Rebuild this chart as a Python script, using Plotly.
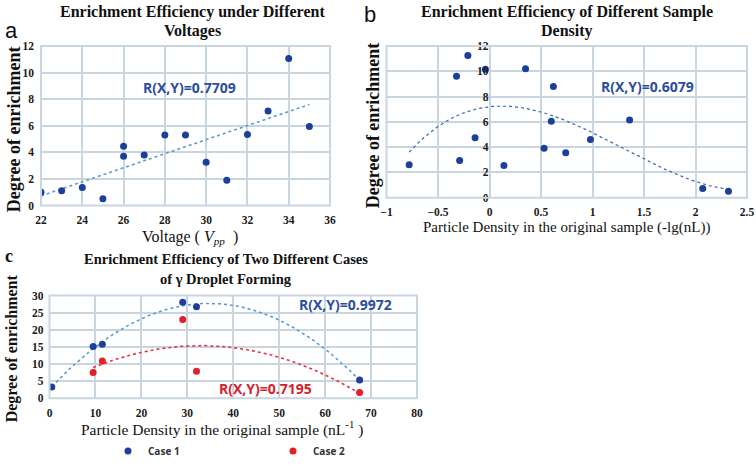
import numpy as np
import plotly.graph_objects as go

# ---- data ----
volt_x = [22, 23, 24, 25, 26, 26, 27, 28, 29, 30, 31, 32, 33, 34, 35]
volt_y = [1.0, 1.1, 1.35, 0.5, 4.45, 3.7, 3.8, 5.3, 5.3, 3.25, 1.9, 5.35, 7.1, 11.05, 5.95]

dens_x = [-0.78, -0.32, -0.29, -0.21, -0.14, -0.04, 0.14, 0.35, 0.53, 0.60, 0.62, 0.74, 0.98, 1.36, 2.07, 2.32]
dens_y = [2.6, 9.6, 2.95, 11.25, 4.75, 10.15, 2.55, 10.2, 3.9, 6.05, 8.8, 3.55, 4.6, 6.15, 0.72, 0.5]

case1_x = [0.5, 9.5, 11.5, 29, 32, 67.5]
case1_y = [3.3, 15.1, 15.8, 28, 26.7, 5.3]
case2_x = [9.5, 11.5, 29, 32, 67.5]
case2_y = [7.5, 10.9, 23, 7.9, 1.7]

r_labels = ["R(X,Y)=0.7709", "R(X,Y)=0.6079", "R(X,Y)=0.9972", "R(X,Y)=0.7195"]

# ---- styles ----
BLUE_M = "#1B3F9B"
RED_M = "#E2202C"
BLUE_T = "#5B9BD5"
BLUE_T2 = "#3566B0"
RED_T = "#E8343E"
BLUE_R = "#2A4DA0"
RED_R = "#D8202A"
GRID = "#C9D6DF"
SERIF = "Liberation Serif, Times New Roman, serif"
SANS = "Open Sans"


def trend(x, y, deg):
    c = np.polyfit(x, y, deg)
    xs = np.linspace(min(x), max(x), 120)
    return xs, np.polyval(c, xs)


fig = go.Figure()

# panel a
tx, ty = trend(volt_x, volt_y, 1)
fig.add_trace(go.Scatter(x=tx, y=ty, mode="lines", line=dict(color=BLUE_T, width=1.6, dash="dot"),
                         showlegend=False, xaxis="x", yaxis="y", hoverinfo="skip"))
fig.add_trace(go.Scatter(x=volt_x, y=volt_y, mode="markers", marker=dict(color=BLUE_M, size=7),
                         showlegend=False, xaxis="x", yaxis="y"))

# panel b
tx, ty = trend(dens_x, dens_y, 3)
fig.add_trace(go.Scatter(x=tx, y=ty, mode="lines", line=dict(color=BLUE_T2, width=1.2, dash="dot"),
                         showlegend=False, xaxis="x2", yaxis="y2", hoverinfo="skip"))
fig.add_trace(go.Scatter(x=dens_x, y=dens_y, mode="markers", marker=dict(color=BLUE_M, size=7),
                         showlegend=False, xaxis="x2", yaxis="y2"))

# panel c
tx, ty = trend(case1_x, case1_y, 2)
fig.add_trace(go.Scatter(x=tx, y=ty, mode="lines", line=dict(color=BLUE_T, width=1.6, dash="dot"),
                         showlegend=False, xaxis="x3", yaxis="y3", hoverinfo="skip"))
tx, ty = trend(case2_x, case2_y, 2)
fig.add_trace(go.Scatter(x=tx, y=ty, mode="lines", line=dict(color=RED_T, width=1.6, dash="dot"),
                         showlegend=False, xaxis="x3", yaxis="y3", hoverinfo="skip"))
fig.add_trace(go.Scatter(x=case1_x, y=case1_y, mode="markers", marker=dict(color=BLUE_M, size=7),
                         name="Case 1", xaxis="x3", yaxis="y3"))
fig.add_trace(go.Scatter(x=case2_x, y=case2_y, mode="markers", marker=dict(color=RED_M, size=7),
                         name="Case 2", xaxis="x3", yaxis="y3"))

tickf = dict(family=SERIF, size=11.5, color="#1a1a1a", weight="bold")
ax_common = dict(showgrid=True, gridcolor=GRID, gridwidth=1.5, zeroline=False, showline=False,
                 ticks="", automargin=False)

W, H = 756, 466
dom_a_x = [41 / W, 330 / W]
dom_a_y = [1 - 210 / H, 1 - 47 / H]
dom_b_x = [386.5 / W, 747 / W]
dom_b_y = [1 - 202 / H, 1 - 47 / H]
dom_c_x = [49.5 / W, 417 / W]
dom_c_y = [1 - 407 / H, 1 - 302 / H]

b_range = [-1, 2.5]
b_ypos = dom_b_x[0] + (0 - b_range[0]) / (b_range[1] - b_range[0]) * (dom_b_x[1] - dom_b_x[0])

fig.update_layout(
    width=W, height=H, margin=dict(l=0, r=0, t=0, b=0),
    paper_bgcolor="white", plot_bgcolor="white",
    font=dict(family=SERIF, size=11, color="#222222"),
    xaxis=dict(domain=dom_a_x, range=[22, 36], dtick=2, anchor="y", tickfont=tickf,
               ticklabelstandoff=6, **ax_common),
    yaxis=dict(domain=dom_a_y, range=[0, 12], dtick=2, anchor="x", tickfont=tickf,
               ticklabelstandoff=6, **ax_common),
    xaxis2=dict(domain=dom_b_x, range=b_range, dtick=0.5, anchor="y2", tickfont=tickf,
                ticklabelstandoff=6, **ax_common),
    yaxis2=dict(domain=dom_b_y, range=[0, 12], dtick=2, anchor="free", position=b_ypos,
                tickfont=tickf, ticklabelstandoff=1, **ax_common),
    xaxis3=dict(domain=dom_c_x, range=[0, 80], dtick=10, anchor="y3", tickfont=tickf,
                ticklabelstandoff=6, **ax_common),
    yaxis3=dict(domain=dom_c_y, range=[0, 30], dtick=5, anchor="x3", tickfont=tickf,
                ticklabelstandoff=5, **ax_common),
    legend=dict(orientation="h", x=108 / W, y=1 - 461 / H, xanchor="left", yanchor="middle",
                entrywidth=120, font=dict(family=SANS, size=10, color="#333333", weight="bold"),
                bgcolor="rgba(0,0,0,0)"),
    showlegend=True,
)

# plot borders
for xr, yr in [("x domain", "y domain"), ("x2 domain", "y2 domain"), ("x3 domain", "y3 domain")]:
    fig.add_shape(type="rect", xref=xr, yref=yr, x0=0, x1=1, y0=0, y1=1,
                  line=dict(color=GRID, width=2), layer="above")


def px(x, y):
    return x / W, 1 - y / H


def ann(text, x, y, size, family=SERIF, bold=True, color="#111111", angle=0):
    ax_, ay_ = px(x, y)
    fig.add_annotation(text=text, x=ax_, y=ay_, xref="paper", yref="paper", showarrow=False,
                       xanchor="center", yanchor="middle", textangle=angle,
                       font=dict(family=family, size=size, color=color, weight="bold" if bold else "normal"))


# titles
ann("Enrichment Efficiency under Different", 192, 12, 16)
ann("Voltages", 192, 32, 16)
ann("Enrichment Efficiency of Different Sample", 567, 12, 16)
ann("Density", 567, 32, 16)
ann("Enrichment Efficiency of Two Different Cases", 226, 265, 14.5)
ann("of γ Droplet Forming", 226, 285, 14.5)

# panel letters
ann("a", 11, 31, 22, family="Liberation Sans", bold=False)
ann("b", 370, 15, 22, family="Liberation Sans", bold=False)
ann("c", 9, 262, 18, family=SERIF, bold=True)

# y titles
ann("Degree of enrichment", 14, 132, 18, angle=-90)
ann("Degree of enrichment", 373, 128, 18, angle=-90)
ann("Degree of enrichment", 12, 356, 16, angle=-90)

# x titles
ann("Voltage ( <i>V<sub>pp</sub></i>  )", 190, 243, 16, bold=False)
ann("Particle Density in the original sample (-lg(nL))", 566, 232, 15, bold=False)
ann("Particle Density in the original sample (nL<sup>-1</sup> )", 222, 438, 15.5, bold=False)

# R annotations in data coords
fig.add_annotation(text=r_labels[0], x=29.2, y=8.9, xref="x", yref="y", showarrow=False,
                   font=dict(family=SANS, size=14, color=BLUE_R, weight="bold"))
fig.add_annotation(text=r_labels[1], x=1.53, y=8.8, xref="x2", yref="y2", showarrow=False,
                   font=dict(family=SANS, size=14, color=BLUE_R, weight="bold"))
fig.add_annotation(text=r_labels[2], x=64.5, y=27.4, xref="x3", yref="y3", showarrow=False,
                   font=dict(family=SANS, size=14, color=BLUE_R, weight="bold"))
fig.add_annotation(text=r_labels[3], x=47, y=2.9, xref="x3", yref="y3", showarrow=False,
                   font=dict(family=SANS, size=14, color=RED_R, weight="bold"))

fig.write_html("out.html", config={"displayModeBar": False},
               post_script="document.body.style.margin='0';")
